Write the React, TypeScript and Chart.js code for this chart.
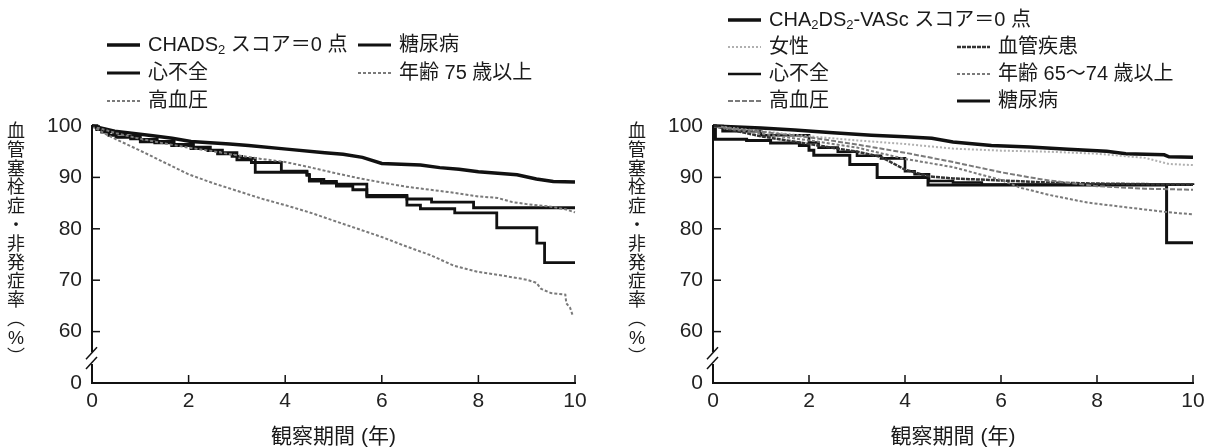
import React, { useEffect, useRef } from 'react';
import { Chart, registerables } from 'chart.js';
Chart.register(...registerables);

// ---------------- data ----------------
const xTickYears = [0, 2, 4, 6, 8, 10];
// 50 is the scale position that carries the "0" label below the axis break
const yTickValues = [50, 60, 70, 80, 90, 100];
const yTickLabels = ['0', '60', '70', '80', '90', '100'];

// Left panel: CHADS2
const chadsScore0T = [0, 0.47, 1.26, 1.66, 2.05, 2.85, 3.24, 4.03, 4.82, 5.2, 5.6, 6.0, 6.8, 7.2, 7.6, 8.0, 8.8, 9.2, 9.55, 10];
const chadsScore0V = [100, 99.0, 98.1, 97.6, 97.0, 96.5, 96.2, 95.5, 94.8, 94.5, 93.9, 92.7, 92.4, 91.9, 91.6, 91.1, 90.5, 89.7, 89.2, 89.1];

const chadsHfT = [0, 0.1, 0.2, 0.35, 0.5, 0.8, 1.0, 1.3, 1.65, 2.05, 2.4, 2.6, 2.9, 3.1, 3.38, 4.45, 4.5, 4.75, 5.06, 5.4, 5.69, 6.52, 6.8, 7.51, 8.38, 9.21, 9.37, 10];
const chadsHfV = [100, 99.3, 98.8, 98.2, 97.8, 97.5, 96.9, 96.7, 96.2, 95.6, 95.2, 94.6, 94.1, 93.7, 91.0, 90.4, 89.3, 88.9, 88.3, 87.6, 86.2, 84.6, 83.9, 83.1, 80.2, 77.2, 73.4, 73.4];

const chadsDmT = [0, 0.1, 0.25, 0.45, 0.7, 1.0, 1.35, 1.7, 2.1, 2.45, 2.7, 3.0, 3.3, 3.92, 4.45, 4.5, 4.8, 5.06, 5.69, 6.52, 7.03, 7.9, 10];
const chadsDmV = [100, 99.4, 98.9, 98.4, 98.0, 97.4, 97.0, 96.4, 95.9, 95.3, 94.8, 93.4, 92.9, 91.2, 90.6, 89.6, 89.2, 88.7, 86.5, 85.8, 85.2, 84.1, 84.1];

const chadsHtnT = [0, 0.5, 1, 1.5, 2, 2.5, 3, 3.5, 4, 4.5, 5, 5.5, 6, 6.5, 7, 7.5, 8, 8.4, 8.7, 9, 9.5, 9.8, 10];
const chadsHtnV = [100, 98.6, 97.5, 96.6, 95.8, 95.1, 94.3, 93.6, 93.0, 92.0, 90.9, 89.9, 89.0, 88.2, 87.6, 87.0, 86.3, 86.0, 85.2, 84.8, 84.3, 83.8, 83.2];

const chadsAge75T = [0, 0.25, 0.5, 1, 1.5, 2, 2.5, 3, 3.5, 4, 4.5, 5, 5.5, 6, 6.5, 7, 7.5, 8, 8.5, 9, 9.2, 9.3, 9.5, 9.8, 9.82, 9.9, 9.95];
const chadsAge75V = [100, 98.6, 97.4, 95.2, 92.9, 90.6, 88.9, 87.4, 85.9, 84.6, 83.2, 81.6, 80.0, 78.4, 76.6, 74.9, 72.8, 71.6, 70.9, 70.1, 69.5, 68.3, 67.5, 67.2, 65.5, 64.6, 63.2];

// Right panel: CHA2DS2-VASc
const vascScore0T = [0, 0.5, 1, 1.7, 2.5, 3.3, 4, 4.56, 5, 5.8, 6.6, 7.4, 8.2, 8.6, 9.4, 9.5, 10];
const vascScore0V = [100, 99.8, 99.6, 99.2, 98.7, 98.2, 97.9, 97.6, 96.9, 96.2, 95.9, 95.5, 95.1, 94.6, 94.4, 94.0, 93.9];

const vascFemaleT = [0, 0.5, 1, 2, 3, 4, 5, 6, 7, 8, 9, 9.5, 10];
const vascFemaleV = [100, 99.5, 99.0, 98.0, 97.2, 96.5, 95.6, 95.2, 95.0, 94.6, 93.8, 92.6, 92.4];

const vascHfT = [0, 0.2, 1, 2, 2.2, 2.6, 3, 3.5, 4.0, 4.2, 4.5, 5, 5.6, 10];
const vascHfV = [100, 99.0, 98.2, 96.8, 95.8, 95.0, 94.2, 93.7, 91.2, 90.6, 89.3, 89.0, 88.6, 88.5];

const vascHtnT = [0, 1, 2, 3, 4, 5, 5.5, 6, 6.6, 7, 8, 9, 10];
const vascHtnV = [100, 98.9, 97.8, 96.4, 94.8, 93.0, 92.0, 91.0, 90.0, 89.4, 88.3, 87.8, 87.6];

const vascVascT = [0, 1, 2, 3, 3.5, 4, 4.5, 5, 6, 7, 8, 10];
const vascVascV = [100, 98.0, 96.5, 95.0, 94.0, 91.5, 90.2, 89.8, 89.4, 89.0, 88.8, 88.6];

const vascAgeT = [0, 1, 2, 3, 4, 5, 6, 6.4, 7, 7.8, 8.6, 9.4, 10];
const vascAgeV = [100, 98.5, 97.2, 95.8, 93.6, 92.0, 89.5, 88.0, 86.6, 85.1, 84.2, 83.3, 82.8];

const vascDmT = [0, 0.05, 0.7, 1.2, 1.8, 2.0, 2.1, 2.85, 3.42, 4.48, 9.45, 10];
const vascDmV = [100, 97.4, 97.2, 96.7, 96.2, 95.3, 94.3, 92.5, 90.0, 88.5, 77.3, 77.3];

// ---------------- styles ----------------
const FONT = '"Liberation Sans", "Noto Sans CJK JP", sans-serif';
const BLACK = '#111111';
const GRAY = '#7a7a7a';
const LIGHT = '#b0b0b0';
const BREAK_VALUES = [55.8, 53.9];

type Seg = { t: string; sub?: boolean };

const pts = (t: number[], v: number[]) => t.map((x, i) => ({ x, y: v[i] }));

function ds(label: string, t: number[], v: number[], color: string, width: number, dash: number[], stepped: boolean) {
  return {
    label,
    data: pts(t, v),
    borderColor: color,
    borderWidth: width,
    borderDash: dash,
    stepped: stepped ? 'before' : false,
    pointRadius: 0,
    tension: 0,
    fill: false,
    clip: 6,
  };
}

const decorPlugin = {
  id: 'decor',
  afterDraw(chart: any, _args: any, opts: any) {
    const { ctx, chartArea, scales } = chart;
    const xs = scales.x, ys = scales.y;
    const ax = chartArea.left;
    const yTop = ys.getPixelForValue(100);
    const yBot = ys.getPixelForValue(50);
    const b1 = ys.getPixelForValue(BREAK_VALUES[0]);
    const b2 = ys.getPixelForValue(BREAK_VALUES[1]);
    ctx.save();
    ctx.strokeStyle = BLACK;
    ctx.lineWidth = 2;
    ctx.beginPath();
    ctx.moveTo(ax, yTop - 1);
    ctx.lineTo(ax, b1 - 1);
    ctx.moveTo(ax, b2 + 1);
    ctx.lineTo(ax, yBot + 1);
    ctx.stroke();
    ctx.lineWidth = 1.5;
    for (const c of [b1, b2]) {
      ctx.beginPath();
      ctx.moveTo(ax - 6, c + 6);
      ctx.lineTo(ax + 5, c - 6);
      ctx.stroke();
    }
    ctx.lineWidth = 1.5;
    for (const v of yTickValues.slice(1)) {
      const py = ys.getPixelForValue(v);
      ctx.beginPath();
      ctx.moveTo(ax, py);
      ctx.lineTo(ax + 8, py);
      ctx.stroke();
    }
    for (const t of xTickYears.slice(1)) {
      const px = xs.getPixelForValue(t);
      ctx.beginPath();
      ctx.moveTo(px, yBot);
      ctx.lineTo(px, yBot - 8);
      ctx.stroke();
    }

    // vertical y title
    ctx.fillStyle = '#1a1a1a';
    ctx.font = `18px ${FONT}`;
    ctx.textAlign = 'center';
    ctx.textBaseline = 'middle';
    const chars = ['血', '管', '塞', '栓', '症', '・', '非', '発', '症', '率', '︵', '%', '︶'];
    chars.forEach((ch, i) => ctx.fillText(ch, ax - 76, 132 + i * 18.8));

    // x title
    ctx.font = `21px ${FONT}`;
    ctx.fillText('観察期間 (年)', (chartArea.left + chartArea.right) / 2, 437);

    // legend
    const items = opts.items as { ds: number; x: number; y: number; segs: Seg[] }[];
    for (const it of items) {
      const d = chart.data.datasets[it.ds];
      ctx.strokeStyle = d.borderColor;
      ctx.lineWidth = d.borderWidth;
      ctx.setLineDash(d.borderDash || []);
      ctx.beginPath();
      ctx.moveTo(it.x, it.y);
      ctx.lineTo(it.x + 33, it.y);
      ctx.stroke();
      ctx.setLineDash([]);
      let cx = it.x + 41;
      ctx.textAlign = 'left';
      ctx.fillStyle = '#1a1a1a';
      for (const s of it.segs) {
        if (s.sub) {
          ctx.font = `13px ${FONT}`;
          ctx.fillText(s.t, cx, it.y + 5);
        } else {
          ctx.font = `20px ${FONT}`;
          ctx.fillText(s.t, cx, it.y);
        }
        cx += ctx.measureText(s.t).width;
      }
    }
    ctx.restore();
  },
};

function makeConfig(datasets: any[], areaLeft: number, areaRight: number, canvasW: number, items: any[]) {
  return {
    type: 'line',
    data: { datasets },
    plugins: [decorPlugin],
    options: {
      responsive: false,
      animation: false,
      devicePixelRatio: 1,
      layout: { padding: { left: 0, right: canvasW - areaRight, top: 126, bottom: 0 } },
      plugins: {
        legend: { display: false },
        tooltip: { enabled: false },
        decor: { items },
      },
      scales: {
        x: {
          type: 'linear',
          min: 0,
          max: 10,
          afterBuildTicks: (s: any) => {
            s.ticks = xTickYears.map((v) => ({ value: v }));
          },
          afterFit: (s: any) => {
            s.height = 448 - 383;
          },
          grid: { display: false, drawTicks: false },
          border: { display: true, color: BLACK, width: 2 },
          ticks: { color: '#222', font: { family: FONT, size: 21 }, padding: 6, maxRotation: 0 },
        },
        y: {
          type: 'linear',
          min: 50,
          max: 100,
          afterBuildTicks: (s: any) => {
            s.ticks = yTickValues.map((v) => ({ value: v }));
          },
          afterFit: (s: any) => {
            s.width = areaLeft;
          },
          grid: { display: false, drawTicks: false },
          border: { display: false },
          ticks: {
            color: '#222',
            font: { family: FONT, size: 21 },
            padding: 10,
            callback: (v: number) => {
              const i = yTickValues.indexOf(v);
              return i >= 0 ? yTickLabels[i] : '';
            },
          },
        },
      },
    },
  };
}

function leftConfig() {
  const datasets = [
    ds('年齢 75 歳以上', chadsAge75T, chadsAge75V, GRAY, 2, [3, 2], false),
    ds('高血圧', chadsHtnT, chadsHtnV, GRAY, 2, [3, 2], false),
    ds('糖尿病', chadsDmT, chadsDmV, BLACK, 2.8, [], true),
    ds('心不全', chadsHfT, chadsHfV, BLACK, 2.8, [], true),
    ds('CHADS2 スコア＝0 点', chadsScore0T, chadsScore0V, BLACK, 3.5, [], false),
  ];
  const items = [
    { ds: 4, x: 107, y: 45, segs: [{ t: 'CHADS' }, { t: '2', sub: true }, { t: ' スコア＝0 点' }] },
    { ds: 3, x: 107, y: 73, segs: [{ t: '心不全' }] },
    { ds: 1, x: 107, y: 101, segs: [{ t: '高血圧' }] },
    { ds: 2, x: 358, y: 45, segs: [{ t: '糖尿病' }] },
    { ds: 0, x: 358, y: 73, segs: [{ t: '年齢 75 歳以上' }] },
  ];
  return makeConfig(datasets, 92, 575, 607, items);
}

function rightConfig() {
  const datasets = [
    ds('年齢 65〜74 歳以上', vascAgeT, vascAgeV, GRAY, 2, [3, 2], false),
    ds('高血圧', vascHtnT, vascHtnV, GRAY, 2, [5, 2], false),
    ds('女性', vascFemaleT, vascFemaleV, LIGHT, 2, [2, 2], false),
    ds('血管疾患', vascVascT, vascVascV, '#333333', 2.5, [4, 1], false),
    ds('心不全', vascHfT, vascHfV, BLACK, 2.6, [], true),
    ds('糖尿病', vascDmT, vascDmV, BLACK, 3, [], true),
    ds('CHA2DS2-VASc スコア＝0 点', vascScore0T, vascScore0V, BLACK, 3.5, [], false),
  ];
  const items = [
    { ds: 6, x: 121, y: 20, segs: [{ t: 'CHA' }, { t: '2', sub: true }, { t: 'DS' }, { t: '2', sub: true }, { t: '-VASc スコア＝0 点' }] },
    { ds: 2, x: 121, y: 47, segs: [{ t: '女性' }] },
    { ds: 4, x: 121, y: 74, segs: [{ t: '心不全' }] },
    { ds: 1, x: 121, y: 101, segs: [{ t: '高血圧' }] },
    { ds: 3, x: 350, y: 47, segs: [{ t: '血管疾患' }] },
    { ds: 0, x: 350, y: 74, segs: [{ t: '年齢 65〜74 歳以上' }] },
    { ds: 5, x: 350, y: 101, segs: [{ t: '糖尿病' }] },
  ];
  return makeConfig(datasets, 106, 586, 607, items);
}

function KMChart({ make, left }: { make: () => any; left: number }) {
  const ref = useRef<HTMLCanvasElement>(null);
  useEffect(() => {
    const chart = new Chart(ref.current as HTMLCanvasElement, make());
    return () => chart.destroy();
  }, []);
  return (
    <canvas
      ref={ref}
      width={607}
      height={448}
      style={{ position: 'absolute', left, top: 0, width: 607, height: 448, display: 'block' }}
    />
  );
}

export default function App() {
  return (
    <div style={{ position: 'absolute', left: 0, top: 0, width: 1214, height: 448, background: '#fff', overflow: 'hidden' }}>
      <KMChart make={leftConfig} left={0} />
      <KMChart make={rightConfig} left={607} />
    </div>
  );
}
